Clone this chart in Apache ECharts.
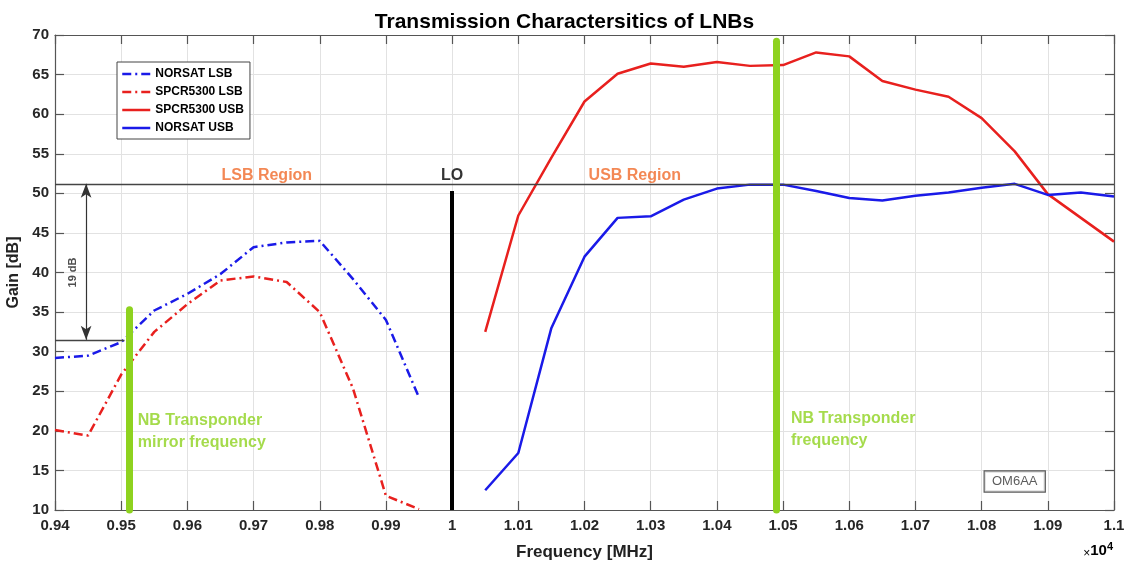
<!DOCTYPE html>
<html>
<head>
<meta charset="utf-8">
<style>
  html, body { margin: 0; padding: 0; background: #fff; }
  #chart { width: 1129px; height: 561px; }
</style>
</head>
<body>
<div id="chart"></div>
<script src="https://cdn.jsdelivr.net/npm/echarts@6.0.0/dist/echarts.min.js"></script>
<script>
// frequencies in MHz (axis shows them x10^4)
const freqLSB = [9400, 9450, 9500, 9550, 9600, 9650, 9700, 9750, 9800, 9850, 9900, 9950];
const norsatLSB = [29.2, 29.5, 31.2, 35.2, 37.3, 39.8, 43.2, 43.8, 44.0, 39.2, 34.0, 24.2];
const spcrLSB = [20.1, 19.4, 27.1, 32.5, 36.0, 39.0, 39.5, 38.8, 35.0, 25.4, 11.8, 10.1];

const freqUSB = [10050, 10100, 10150, 10200, 10250, 10300, 10350, 10400, 10450, 10500,
                 10550, 10600, 10650, 10700, 10750, 10800, 10850, 10900, 10950, 11000];
const spcrUSB = [32.5, 47.2, 54.5, 61.6, 65.1, 66.4, 66.0, 66.6, 66.1, 66.2,
                 67.8, 67.3, 64.2, 63.1, 62.2, 59.5, 55.3, 49.9, 46.9, 43.9];
const norsatUSB = [12.5, 17.2, 33.0, 42.0, 46.9, 47.1, 49.2, 50.6, 51.1, 51.1,
                   50.3, 49.4, 49.1, 49.7, 50.1, 50.7, 51.2, 49.8, 50.1, 49.6];

// annotation values
const refHigh = 51.2;
const refLow = 31.5;
const arrowFreq = 9447;
const loFreq = 10000;
const loTop = 50.3;
const nbMirrorFreq = 9512;
const nbMirrorTop = 35.3;
const nbFreq = 10490;
const nbTop = 69.2;

const blue = '#1a1ae8';
const red = '#e8201e';
const green = '#8ed21f';
const orange = '#f06a2a';
const dashDot = [9, 4, 2, 4];
const font = 'Liberation Sans, Arial, sans-serif';

const zip = (xs, ys) => xs.map((x, i) => [x, ys[i]]);

const chart = echarts.init(document.getElementById('chart'));

const axisCommon = {
  type: 'value',
  axisLine: { show: true, onZero: false, lineStyle: { color: '#555', width: 1.2 } },
  axisTick: { show: true, inside: true, length: 9, lineStyle: { color: '#555', width: 1.2 } }
};

const textLabel = (text, color, size, extra) => Object.assign({
  show: true, formatter: text, color: color, fontSize: size, fontWeight: 'bold',
  fontFamily: font, position: 'inside'
}, extra || {});

const legendItem = (name, color, type) => ({
  name: name,
  itemStyle: { opacity: 0 },
  lineStyle: { color: color, width: 2.5, type: type }
});

chart.setOption({
  animation: false,
  backgroundColor: '#fff',
  title: {
    text: 'Transmission Charactersitics of LNBs',
    left: 'center', top: 7,
    textStyle: { fontSize: 21, fontWeight: 'bold', color: '#000', fontFamily: font }
  },
  grid: { left: 55, right: 15, top: 35, bottom: 51, outerBoundsMode: 'none', containLabel: false },
  legend: {
    data: [
      legendItem('NORSAT LSB', blue, dashDot),
      legendItem('SPCR5300 LSB', red, dashDot),
      legendItem('SPCR5300 USB', red, 'solid'),
      legendItem('NORSAT USB', blue, 'solid')
    ],
    orient: 'vertical', left: 117, top: 62,
    backgroundColor: '#fff', borderColor: '#444', borderWidth: 1,
    padding: [6, 6, 5, 4], itemGap: 6, itemWidth: 28, itemHeight: 12,
    textStyle: { fontSize: 12, fontWeight: 'bold', color: '#000', fontFamily: font }
  },
  xAxis: [
    Object.assign({}, axisCommon, {
      min: 9400, max: 11000, interval: 100,
      name: 'Frequency [MHz]', nameLocation: 'middle', nameGap: 34,
      nameTextStyle: { fontSize: 17, fontWeight: 'bold', color: '#222', fontFamily: font },
      axisLabel: {
        fontSize: 15, fontWeight: 'bold', color: '#262626', fontFamily: font, margin: 8,
        formatter: v => String(+(v / 10000).toFixed(3))
      },
      splitLine: { show: true, lineStyle: { color: '#e2e2e2', width: 1 } }
    }),
    Object.assign({}, axisCommon, {
      position: 'top', min: 9400, max: 11000, interval: 100,
      axisLabel: { show: false }, splitLine: { show: false }
    })
  ],
  yAxis: [
    Object.assign({}, axisCommon, {
      min: 10, max: 70, interval: 5,
      name: 'Gain [dB]', nameLocation: 'middle', nameGap: 29,
      nameTextStyle: { fontSize: 16, fontWeight: 'bold', color: '#222', fontFamily: font },
      axisLabel: { fontSize: 15, fontWeight: 'bold', color: '#262626', fontFamily: font, margin: 6 },
      splitLine: { show: true, lineStyle: { color: '#e2e2e2', width: 1 } }
    }),
    Object.assign({}, axisCommon, {
      position: 'right', min: 10, max: 70, interval: 5,
      axisLabel: { show: false }, splitLine: { show: false }
    })
  ],
  graphic: [{
    type: 'text', right: 16, bottom: 1,
    style: {
      text: '{a|×}{b|10}{c|4}',
      rich: {
        a: { fontSize: 12, color: '#555', fontFamily: font, verticalAlign: 'bottom' },
        b: { fontSize: 15, fontWeight: 'bold', color: '#262626', fontFamily: font },
        c: { fontSize: 11, fontWeight: 'bold', color: '#262626', fontFamily: font, verticalAlign: 'top', padding: [0, 0, 8, 0] }
      }
    }
  }],
  series: [
    {
      name: 'NORSAT LSB', type: 'line', data: zip(freqLSB, norsatLSB), symbol: 'none',
      color: blue, lineStyle: { color: blue, width: 2.5, type: dashDot }
    },
    {
      name: 'SPCR5300 LSB', type: 'line', data: zip(freqLSB, spcrLSB), symbol: 'none',
      color: red, lineStyle: { color: red, width: 2.5, type: dashDot }
    },
    {
      name: 'SPCR5300 USB', type: 'line', data: zip(freqUSB, spcrUSB), symbol: 'none',
      color: red, lineStyle: { color: red, width: 2.5 }
    },
    {
      name: 'NORSAT USB', type: 'line', data: zip(freqUSB, norsatUSB), symbol: 'none',
      color: blue, lineStyle: { color: blue, width: 2.5 }
    },
    {
      // reference lines, LO, transponder bars, arrow
      name: 'annot', type: 'line', data: [], z: 5, silent: true,
      markLine: {
        silent: true, animation: false, symbol: 'none', label: { show: false },
        data: [
          [{ coord: [9400, refHigh], lineStyle: { color: '#444', width: 1.3, type: 'solid' } },
           { coord: [11000, refHigh] }],
          [{ coord: [9400, refLow], lineStyle: { color: '#444', width: 1.3, type: 'solid' } },
           { coord: [9505, refLow] }],
          [{ coord: [arrowFreq, refLow], symbol: 'arrow', symbolSize: [8, 14],
             lineStyle: { color: '#333', width: 1.2, type: 'solid' } },
           { coord: [arrowFreq, refHigh], symbol: 'arrow', symbolSize: [8, 14] }],
          [{ coord: [loFreq, 10], lineStyle: { color: '#000', width: 4, type: 'solid' } },
           { coord: [loFreq, loTop] }],
          [{ coord: [nbMirrorFreq, 10], lineStyle: { color: green, width: 7, type: 'solid', cap: 'round' } },
           { coord: [nbMirrorFreq, nbMirrorTop] }],
          [{ coord: [nbFreq, 10], lineStyle: { color: green, width: 7, type: 'solid', cap: 'round' } },
           { coord: [nbFreq, nbTop] }]
        ]
      }
    },
    {
      // text annotations
      name: 'labels', type: 'scatter', symbolSize: 0, z: 6, silent: true,
      data: [
        { value: [9720, 52.3], label: textLabel('LSB Region', orange, 16) },
        { value: [10276, 52.3], label: textLabel('USB Region', orange, 16) },
        { value: [loFreq, 52.2], label: textLabel('LO', '#000', 16) },
        { value: [9525, 19.9], label: textLabel('NB Transponder\nmirror frequency', green, 16,
            { position: 'right', distance: 0, lineHeight: 22, align: 'left' }) },
        { value: [10512, 20.2], label: textLabel('NB Transponder\nfrequency', green, 16,
            { position: 'right', distance: 0, lineHeight: 22, align: 'left' }) },
        { value: [9427, 40], label: textLabel('19 dB', '#222', 11, { rotate: 90 }) },
        { value: [10850, 13.6], label: textLabel('OM6AA', '#333', 13,
            { fontWeight: 'normal', borderColor: '#333', borderWidth: 1.2, padding: [4, 6, 3, 6],
              width: 48, align: 'center', backgroundColor: '#fff' }) }
      ]
    }
  ]
});

window.addEventListener('resize', () => chart.resize());
</script>
</body>
</html>
